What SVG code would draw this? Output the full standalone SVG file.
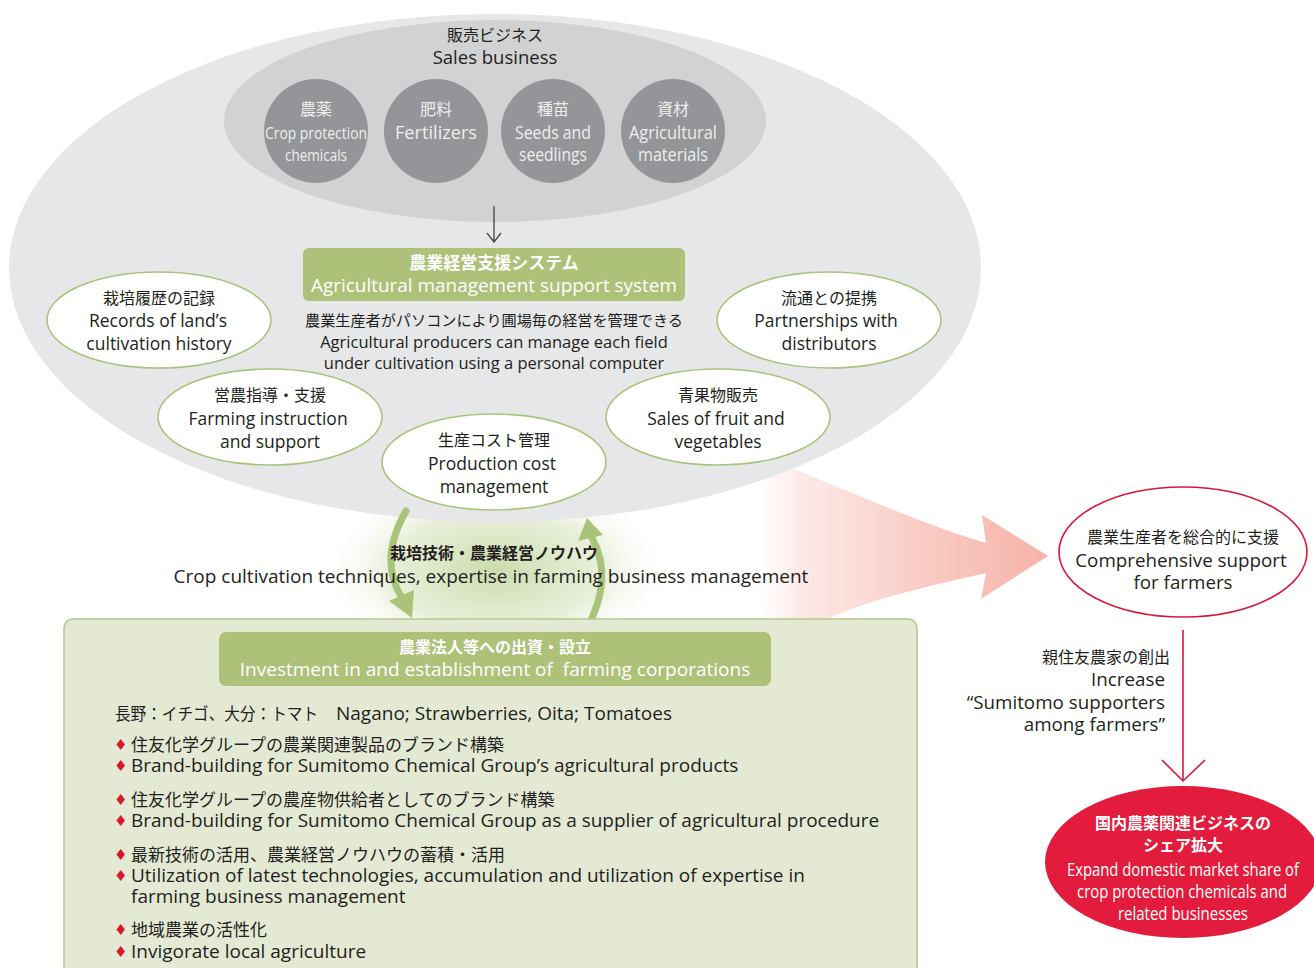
<svg xmlns="http://www.w3.org/2000/svg" width="1314" height="968" viewBox="0 0 1314 968">
<defs>
<style>
text{font-family:"Open Sans","Noto Sans CJK JP",sans-serif;fill:#231f20}
.c{text-anchor:middle}
.e{text-anchor:end}
.jp{font-size:16px}
.en{font-size:17.5px}
.en2{font-size:18.8px}
.w{fill:#ffffff}
.wg{fill:#eeeeee}
.b{font-weight:bold}
.gc{fill:#939598}
.we{fill:#ffffff;stroke:#a9c47a;stroke-width:1.6}
.gb{fill:#adc178}
.bul{fill:#d7182a;font-family:"DejaVu Sans",sans-serif;font-size:15px}
.bt{font-size:19px}
.bj{font-size:17px}
</style>
<radialGradient id="glow" cx="0.5" cy="0.5" r="0.5">
<stop offset="0" stop-color="#c9d9a8" stop-opacity="0.95"/>
<stop offset="0.6" stop-color="#dde8c8" stop-opacity="0.7"/>
<stop offset="1" stop-color="#ffffff" stop-opacity="0"/>
</radialGradient>
<linearGradient id="pink" x1="760" y1="0" x2="1045" y2="0" gradientUnits="userSpaceOnUse">
<stop offset="0" stop-color="#fce3df" stop-opacity="0"/>
<stop offset="0.15" stop-color="#fce3df" stop-opacity="0.8"/>
<stop offset="0.55" stop-color="#f9cdc6"/>
<stop offset="1" stop-color="#f5b3a9"/>
</linearGradient>
</defs>
<rect width="1314" height="968" fill="#ffffff"/>

<g id="backdrop">
<ellipse cx="495" cy="570" rx="175" ry="95" fill="url(#glow)"/>
<path d="M 760 455 C 850 492 925 525 986 543 L 982 515 L 1048 556 L 981 599 L 986 573 C 910 590 850 605 810 628 L 760 628 Z" fill="url(#pink)"/>
<ellipse cx="495" cy="268" rx="486" ry="254" fill="#e6e7e8"/>
<ellipse cx="495" cy="121" rx="271" ry="101" fill="#d1d2d4"/>
</g>

<g id="sales-title">
<text class="c jp" x="495" y="41">販売ビジネス</text>
<text class="c" x="495" y="64" font-size="18.5">Sales business</text>
</g>

<g id="node-crop">
<circle class="gc" cx="316" cy="131" r="52"/>
<text class="c jp wg" x="316" y="115">農薬</text>
<text class="c wg" x="316" y="139" font-size="17" textLength="102" lengthAdjust="spacingAndGlyphs">Crop protection</text>
<text class="c wg" x="316" y="161" font-size="17" textLength="62" lengthAdjust="spacingAndGlyphs">chemicals</text>
</g>
<g id="node-fert">
<circle class="gc" cx="436" cy="131" r="52"/>
<text class="c jp wg" x="436" y="115">肥料</text>
<text class="c wg" x="436" y="139" font-size="18" textLength="82" lengthAdjust="spacingAndGlyphs">Fertilizers</text>
</g>
<g id="node-seeds">
<circle class="gc" cx="553" cy="131" r="52"/>
<text class="c jp wg" x="553" y="115">種苗</text>
<text class="c wg" x="553" y="139" font-size="18" textLength="76" lengthAdjust="spacingAndGlyphs">Seeds and</text>
<text class="c wg" x="553" y="161" font-size="18" textLength="68" lengthAdjust="spacingAndGlyphs">seedlings</text>
</g>
<g id="node-mat">
<circle class="gc" cx="673" cy="131" r="52"/>
<text class="c jp wg" x="673" y="115">資材</text>
<text class="c wg" x="673" y="139" font-size="18" textLength="88" lengthAdjust="spacingAndGlyphs">Agricultural</text>
<text class="c wg" x="673" y="161" font-size="18" textLength="70" lengthAdjust="spacingAndGlyphs">materials</text>
</g>

<g id="connectors" fill="none">
<path d="M 494 206 L 494 242 M 487 233 L 494 242 L 501 233" stroke="#4d4d4f" stroke-width="1.4"/>
<path d="M 406 511 Q 378 560 402 598" stroke="#a9c47a" stroke-width="7" stroke-linecap="round"/>
<polygon points="412,618 389,601 414,590" fill="#a9c47a"/>
<path d="M 587 628 Q 614 578 592 538" stroke="#a9c47a" stroke-width="7" stroke-linecap="round"/>
<polygon points="587,518 578,541 603,535" fill="#a9c47a"/>
<line x1="1183" y1="630" x2="1183" y2="780" stroke="#d7183a" stroke-width="1.6"/>
<polyline points="1162,760 1183,781 1205,760" stroke="#d7183a" stroke-width="1.6"/>
</g>

<g id="node-system">
<rect class="gb" x="303" y="248" width="382" height="53" rx="6"/>
<text class="c w b" x="494" y="269" font-size="17">農業経営支援システム</text>
<text class="c en w" x="494" y="292" textLength="366" lengthAdjust="spacingAndGlyphs">Agricultural management support system</text>
<text class="c" x="494" y="326" font-size="15" textLength="378" lengthAdjust="spacingAndGlyphs">農業生産者がパソコンにより圃場毎の経営を管理できる</text>
<text class="c" x="494" y="348" font-size="16.5">Agricultural producers can manage each field</text>
<text class="c" x="494" y="369" font-size="16.5">under cultivation using a personal computer</text>
</g>

<g id="node-records">
<ellipse class="we" cx="159" cy="320" rx="112" ry="48"/>
<text class="c jp" x="159" y="304">栽培履歴の記録</text>
<text class="c en" x="158" y="327">Records of land’s</text>
<text class="c en" x="159" y="350">cultivation history</text>
</g>
<g id="node-partner">
<ellipse class="we" cx="829" cy="320" rx="112" ry="48"/>
<text class="c jp" x="829" y="304">流通との提携</text>
<text class="c en" x="826" y="327">Partnerships with</text>
<text class="c en" x="829" y="350">distributors</text>
</g>
<g id="node-farming">
<ellipse class="we" cx="270" cy="417" rx="112" ry="48"/>
<text class="c jp" x="270" y="401">営農指導・支援</text>
<text class="c en" x="268" y="425">Farming instruction</text>
<text class="c en" x="270" y="448">and support</text>
</g>
<g id="node-fruit">
<ellipse class="we" cx="718" cy="417" rx="112" ry="48"/>
<text class="c jp" x="718" y="401">青果物販売</text>
<text class="c en" x="716" y="425">Sales of fruit and</text>
<text class="c en" x="718" y="448">vegetables</text>
</g>
<g id="node-cost">
<ellipse class="we" cx="494" cy="462" rx="112" ry="48"/>
<text class="c jp" x="494" y="446">生産コスト管理</text>
<text class="c en" x="492" y="470">Production cost</text>
<text class="c en" x="494" y="493">management</text>
</g>

<g id="label-knowhow">
<text class="c jp b" x="494" y="559">栽培技術・農業経営ノウハウ</text>
<text class="c" x="491" y="583" font-size="19">Crop cultivation techniques, expertise in farming business management</text>
</g>

<g id="node-invest">
<rect x="64" y="619" width="853" height="370" rx="9" fill="#e4e9d4" stroke="#b3c98a" stroke-width="1.6"/>
<rect class="gb" x="219" y="632" width="552" height="54" rx="7"/>
<text class="c jp w b" x="495" y="653">農業法人等への出資・設立</text>
<text class="c w" x="495" y="676" font-size="19" xml:space="preserve">Investment in and establishment of  farming corporations</text>
<text class="bj" x="115" y="720" textLength="203" lengthAdjust="spacingAndGlyphs">長野：イチゴ、大分：トマト</text>
<text class="bt" x="336" y="720">Nagano; Strawberries, Oita; Tomatoes</text>
<text class="bul" x="114" y="750">♦</text>
<text class="bj" x="131" y="751">住友化学グループの農業関連製品のブランド構築</text>
<text class="bul" x="114" y="771">♦</text>
<text class="bt" x="131" y="772">Brand-building for Sumitomo Chemical Group’s agricultural products</text>
<text class="bul" x="114" y="805">♦</text>
<text class="bj" x="131" y="806">住友化学グループの農産物供給者としてのブランド構築</text>
<text class="bul" x="114" y="826">♦</text>
<text class="bt" x="131" y="827">Brand-building for Sumitomo Chemical Group as a supplier of agricultural procedure</text>
<text class="bul" x="114" y="860">♦</text>
<text class="bj" x="131" y="861">最新技術の活用、農業経営ノウハウの蓄積・活用</text>
<text class="bul" x="114" y="881">♦</text>
<text class="bt" x="131" y="882">Utilization of latest technologies, accumulation and utilization of expertise in</text>
<text class="bt" x="131" y="903">farming business management</text>
<text class="bul" x="114" y="935">♦</text>
<text class="bj" x="131" y="936">地域農業の活性化</text>
<text class="bul" x="114" y="957">♦</text>
<text class="bt" x="131" y="958">Invigorate local agriculture</text>
</g>

<g id="node-support">
<ellipse cx="1183" cy="552" rx="124" ry="65" fill="#ffffff" stroke="#d7183a" stroke-width="1.6"/>
<text class="c jp" x="1183" y="543">農業生産者を総合的に支援</text>
<text class="c en2" x="1181" y="567">Comprehensive support</text>
<text class="c en2" x="1183" y="589">for farmers</text>
</g>

<g id="label-supporters">
<text class="e jp" x="1170" y="663">親住友農家の創出</text>
<text class="e en2" x="1165" y="686">Increase</text>
<text class="e en2" x="1165" y="709">“Sumitomo supporters</text>
<text class="e en2" x="1165" y="731">among farmers”</text>
</g>

<g id="node-share">
<ellipse cx="1183" cy="862" rx="138" ry="76" fill="#e31b3c"/>
<text class="c jp w b" x="1183" y="829">国内農薬関連ビジネスの</text>
<text class="c jp w b" x="1183" y="851">シェア拡大</text>
<text class="c w" x="1183" y="876" font-size="18" textLength="232" lengthAdjust="spacingAndGlyphs">Expand domestic market share of</text>
<text class="c w" x="1182" y="898" font-size="18" textLength="210" lengthAdjust="spacingAndGlyphs">crop protection chemicals and</text>
<text class="c w" x="1183" y="920" font-size="18" textLength="130" lengthAdjust="spacingAndGlyphs">related businesses</text>
</g>
</svg>
